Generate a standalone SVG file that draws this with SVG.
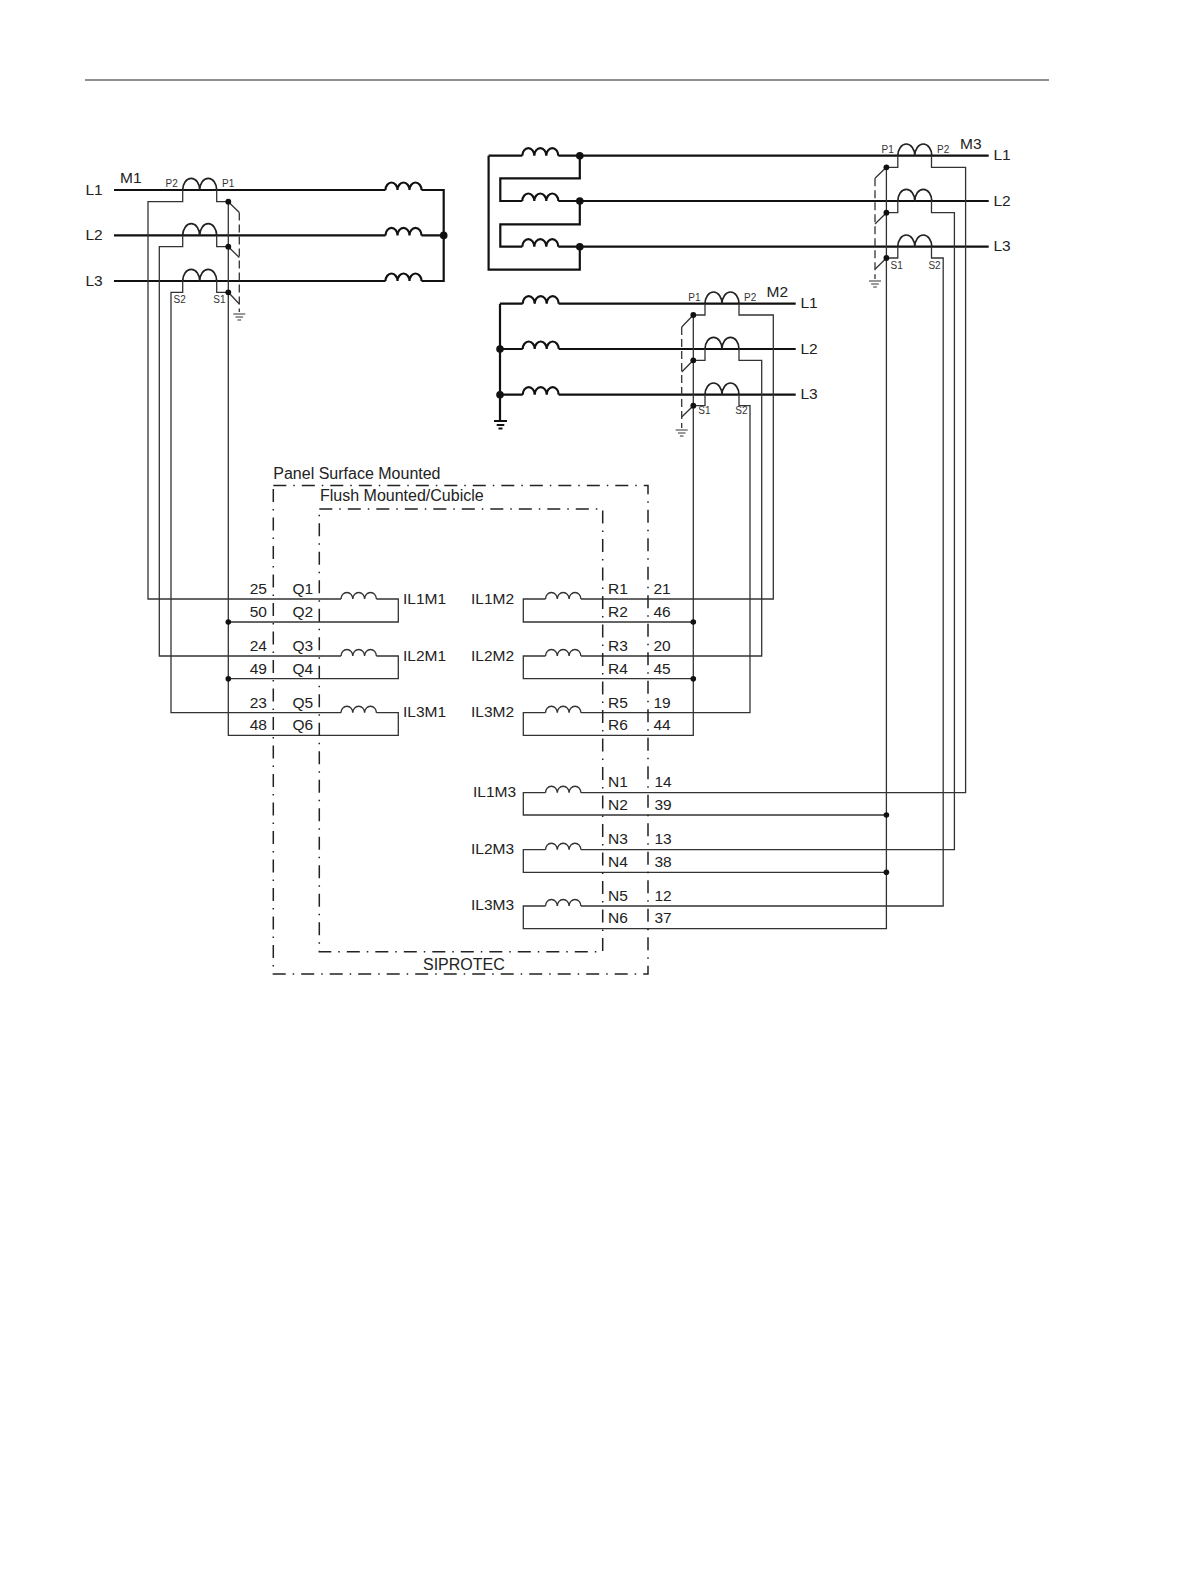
<svg xmlns="http://www.w3.org/2000/svg" width="1191" height="1587" viewBox="0 0 1191 1587">
<style>
text{font-family:"Liberation Sans",Arial,sans-serif;fill:#222}
.t{font-size:15.5px}
.l{font-size:16px}
.s{font-size:10px;fill:#333}
.thick{fill:none;stroke:#111;stroke-width:2.2}
.wire{fill:none;stroke:#333;stroke-width:1.3}
.dash{fill:none;stroke:#333;stroke-width:1.3;stroke-dasharray:8 4}
.box{fill:none;stroke:#222;stroke-width:1.5;stroke-dasharray:13 7 1.5 7}
.dot{fill:#111}
</style>
<defs>
<path id="ind" d="M0 0a6 7.5 0 0 1 12 0a6 7.5 0 0 1 12 0a6 7.5 0 0 1 12 0" fill="none" stroke="#111" stroke-width="2.2"/>
<path id="indt" d="M0 0a5.9 6.5 0 0 1 11.8 0a5.9 6.5 0 0 1 11.8 0a5.9 6.5 0 0 1 11.8 0" fill="none" stroke="#333" stroke-width="1.4"/>
<path id="ct" d="M0 0a8.5 11.7 0 0 1 17 0a8.5 11.7 0 0 1 17 0" fill="none" stroke="#222" stroke-width="1.7"/>
<path id="gnd" d="M-6 0h12M-3.8 3h7.6M-1.8 6h3.6" fill="none" stroke="#333" stroke-width="1.1"/>
<path id="gndb" d="M-6.5 0h13M-3.8 4h7.6M-2 7.5h4" fill="none" stroke="#111" stroke-width="1.8"/>
</defs>
<path d="M85 80H1049" stroke="#222" stroke-width="1" fill="none"/>
<g id="connectors">
<path class="thick" d="M114 190H385.5M421.5 190H443.7V281H421.5M114 235.4H385.5M421.5 235.4H443.7M114 281H385.5"/>
<path class="wire" d="M182.7 190V201.7H148V599H341M182.7 235.4V246.7H159.3V656H341M182.7 281V292.3H171V712.7H341M216.7 190V201.7H228.3V735.3H398.3V712.7H376.4M216.7 235.4V246.7H228.3M216.7 281V292.3H228.3M228.3 622H398.3V599H376.4M228.3 678.7H398.3V656H376.4"/>
<path class="wire" d="M228.3 201.7L239.3 212.5M228.3 246.7L239.3 257.5M228.3 292.3L239.3 304"/>
<path class="dash" d="M239.3 212.5V312"/>
<path class="thick" d="M488.6 155.7H522.3M558.3 155.7H988.7M579.8 155.7V178.3H500.3V201H522.3M558.3 201H988.7M579.8 201V224.3H500.3V246.7H522.3M558.3 246.7H988.7M579.8 246.7V269.7H488.6V155.7"/>
<path class="wire" d="M897.8 155.7V167.3H886.4V928.7H523.3V906H545.5M931.5 155.7V167.3H965.6V792.7H580.9M897.8 201V212.7H886.4M931.5 201V212.7H954.4V849.7H580.9M897.8 246.7V258H886.4M931.5 246.7V258H943.2V906H580.9M886.4 815H523.3V792.7H545.5M886.4 872.3H523.3V849.7H545.5"/>
<path class="wire" d="M886.4 167.3L875 178.3M886.4 212.7L875 224M886.4 258L875 269.3"/>
<path class="dash" d="M875 178.3V279"/>
<path class="thick" d="M500 303.7H522.7M558.7 303.7H795.7M500 349H522.7M558.7 349H795.7M500 394.7H522.7M558.7 394.7H795.7M500 303.7V420"/>
<path class="wire" d="M705 303.7V315H693.3V735.3H523.3V712.7H545.5M739 303.7V315H773.3V599H580.9M705 349V360.3H693.3M739 349V360.3H761.7V656H580.9M705 394.7V405.7H693.3M739 394.7V405.7H750V712.7H580.9M693.3 622H523.3V599H545.5M693.3 678.7H523.3V656H545.5"/>
<path class="wire" d="M693.3 315L681.7 327M693.3 360.3L681.7 372M693.3 405.7L681.7 417"/>
<path class="dash" d="M681.7 327V428"/>
</g>
<g id="gen-delta">
<use href="#ind" x="385.5" y="190"/><use href="#ind" x="385.5" y="235.4"/><use href="#ind" x="385.5" y="281"/>
<circle class="dot" cx="443.7" cy="235.4" r="3.8"/>
</g>
<g id="gen-m3">
<use href="#ind" x="522.3" y="155.7"/><use href="#ind" x="522.3" y="201"/><use href="#ind" x="522.3" y="246.7"/>
<circle class="dot" cx="579.8" cy="155.7" r="3.8"/><circle class="dot" cx="579.8" cy="201" r="3.8"/><circle class="dot" cx="579.8" cy="246.7" r="3.8"/>
</g>
<g id="gen-m2">
<use href="#ind" x="522.7" y="303.7"/><use href="#ind" x="522.7" y="349"/><use href="#ind" x="522.7" y="394.7"/>
<circle class="dot" cx="500" cy="349" r="3.8"/><circle class="dot" cx="500" cy="394.7" r="3.8"/>
<use href="#gndb" x="500.5" y="421"/>
</g>
<g id="ct-m1">
<use href="#ct" x="182.7" y="190"/><use href="#ct" x="182.7" y="235.4"/><use href="#ct" x="182.7" y="281"/>
<circle class="dot" cx="228.3" cy="201.7" r="2.9"/><circle class="dot" cx="228.3" cy="246.7" r="2.9"/><circle class="dot" cx="228.3" cy="292.3" r="2.9"/>
<use href="#gnd" x="239.3" y="314"/>
<text class="t" x="120" y="183">M1</text><text class="t" x="85.5" y="194.8">L1</text><text class="t" x="85.5" y="240">L2</text><text class="t" x="85.5" y="285.8">L3</text>
<text class="s" x="165.5" y="187">P2</text><text class="s" x="222" y="187">P1</text><text class="s" x="173.5" y="302.5">S2</text><text class="s" x="213.3" y="302.5">S1</text>
</g>
<g id="ct-m3">
<use href="#ct" x="897.8" y="155.7"/><use href="#ct" x="897.8" y="201"/><use href="#ct" x="897.8" y="246.7"/>
<circle class="dot" cx="886.4" cy="167.3" r="2.9"/><circle class="dot" cx="886.4" cy="212.7" r="2.9"/><circle class="dot" cx="886.4" cy="258" r="2.9"/>
<use href="#gnd" x="875" y="281"/>
<text class="t" x="960" y="148.5">M3</text><text class="t" x="993.5" y="160">L1</text><text class="t" x="993.5" y="205.8">L2</text><text class="t" x="993.5" y="251">L3</text>
<text class="s" x="881.6" y="153">P1</text><text class="s" x="937" y="153">P2</text><text class="s" x="890.5" y="268.5">S1</text><text class="s" x="928.4" y="268.5">S2</text>
</g>
<g id="ct-m2">
<use href="#ct" x="705" y="303.7"/><use href="#ct" x="705" y="349"/><use href="#ct" x="705" y="394.7"/>
<circle class="dot" cx="693.3" cy="315" r="2.9"/><circle class="dot" cx="693.3" cy="360.3" r="2.9"/><circle class="dot" cx="693.3" cy="405.7" r="2.9"/>
<use href="#gnd" x="681.7" y="430"/>
<text class="t" x="766.5" y="297">M2</text><text class="t" x="800.5" y="308">L1</text><text class="t" x="800.5" y="353.5">L2</text><text class="t" x="800.5" y="399">L3</text>
<text class="s" x="688.3" y="300.7">P1</text><text class="s" x="744" y="300.7">P2</text><text class="s" x="698.3" y="414.3">S1</text><text class="s" x="735.3" y="414.3">S2</text>
</g>
<g id="siprotec-outer">
<path class="box" d="M273.3 485.5H648V974H273.3Z"/>
<text class="l" x="273.3" y="478.5">Panel Surface Mounted</text>
<text class="l" x="423" y="970">SIPROTEC</text>
</g>
<g id="siprotec-inner">
<path class="box" d="M319.3 509H602.7V951.7H319.3Z"/>
<text class="l" x="320" y="501.3">Flush Mounted/Cubicle</text>
</g>
<g id="input-m1">
<use href="#indt" x="341" y="599"/><use href="#indt" x="341" y="656"/><use href="#indt" x="341" y="712.7"/>
<circle class="dot" cx="228.3" cy="622" r="2.8"/><circle class="dot" cx="228.3" cy="678.7" r="2.8"/>
<g text-anchor="end"><text class="t" x="267" y="594.3">25</text><text class="t" x="267" y="617">50</text><text class="t" x="267" y="651">24</text><text class="t" x="267" y="673.5">49</text><text class="t" x="267" y="707.5">23</text><text class="t" x="267" y="730.2">48</text></g>
<text class="t" x="292.5" y="594.3">Q1</text><text class="t" x="292.5" y="617">Q2</text><text class="t" x="292.5" y="651">Q3</text><text class="t" x="292.5" y="673.5">Q4</text><text class="t" x="292.5" y="707.5">Q5</text><text class="t" x="292.5" y="730.2">Q6</text>
<text class="t" x="403" y="604">IL1M1</text><text class="t" x="403" y="660.5">IL2M1</text><text class="t" x="403" y="717">IL3M1</text>
</g>
<g id="input-m2">
<use href="#indt" x="545.5" y="599"/><use href="#indt" x="545.5" y="656"/><use href="#indt" x="545.5" y="712.7"/>
<circle class="dot" cx="693.3" cy="622" r="2.8"/><circle class="dot" cx="693.3" cy="678.7" r="2.8"/>
<text class="t" x="471" y="604">IL1M2</text><text class="t" x="471" y="660.5">IL2M2</text><text class="t" x="471" y="717">IL3M2</text>
<text class="t" x="608" y="594.3">R1</text><text class="t" x="608" y="617">R2</text><text class="t" x="608" y="651">R3</text><text class="t" x="608" y="673.5">R4</text><text class="t" x="608" y="707.5">R5</text><text class="t" x="608" y="730.2">R6</text>
<text class="t" x="653.5" y="594.3">21</text><text class="t" x="653.5" y="617">46</text><text class="t" x="653.5" y="651">20</text><text class="t" x="653.5" y="673.5">45</text><text class="t" x="653.5" y="707.5">19</text><text class="t" x="653.5" y="730.2">44</text>
</g>
<g id="input-m3">
<use href="#indt" x="545.5" y="792.7"/><use href="#indt" x="545.5" y="849.7"/><use href="#indt" x="545.5" y="906"/>
<circle class="dot" cx="886.4" cy="815" r="2.8"/><circle class="dot" cx="886.4" cy="872.3" r="2.8"/>
<text class="t" x="473" y="797">IL1M3</text><text class="t" x="471" y="853.5">IL2M3</text><text class="t" x="471" y="910">IL3M3</text>
<text class="t" x="608" y="787">N1</text><text class="t" x="608" y="810">N2</text><text class="t" x="608" y="844">N3</text><text class="t" x="608" y="867">N4</text><text class="t" x="608" y="901">N5</text><text class="t" x="608" y="923">N6</text>
<text class="t" x="654.5" y="787">14</text><text class="t" x="654.5" y="810">39</text><text class="t" x="654.5" y="844">13</text><text class="t" x="654.5" y="867">38</text><text class="t" x="654.5" y="901">12</text><text class="t" x="654.5" y="923">37</text>
</g>
</svg>
